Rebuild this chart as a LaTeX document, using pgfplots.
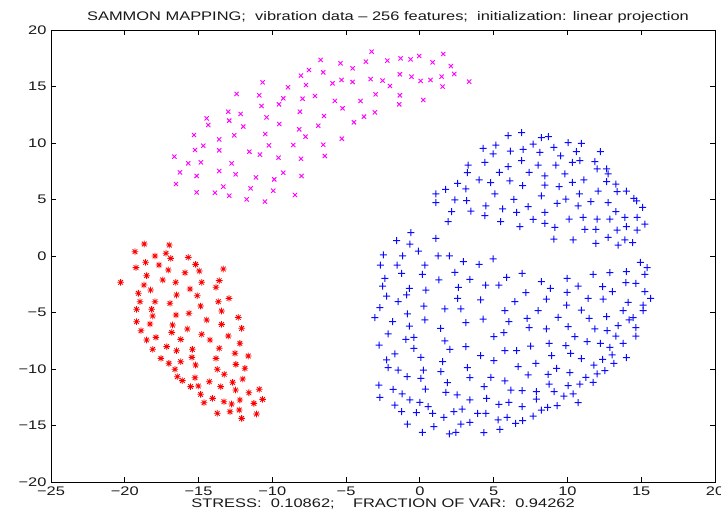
\documentclass[border=0pt]{standalone}
\usepackage{fontspec}
\setmainfont{Liberation Sans}[FakeStretch=1.32]
\usepackage{pgfplots}
\usepackage{pgfplotstable}
\pgfplotsset{compat=1.18}
\definecolor{mblue}{RGB}{10,10,255}
\definecolor{mmag}{RGB}{255,0,255}
\definecolor{mred}{RGB}{255,0,0}

\pgfdeclareplotmark{mstar}{%
  \pgfpathmoveto{\pgfpoint{-\pgfplotmarksize}{0pt}}\pgfpathlineto{\pgfpoint{\pgfplotmarksize}{0pt}}%
  \pgfpathmoveto{\pgfpoint{0pt}{-\pgfplotmarksize}}\pgfpathlineto{\pgfpoint{0pt}{\pgfplotmarksize}}%
  \pgfpathmoveto{\pgfpoint{-0.707\pgfplotmarksize}{-0.707\pgfplotmarksize}}\pgfpathlineto{\pgfpoint{0.707\pgfplotmarksize}{0.707\pgfplotmarksize}}%
  \pgfpathmoveto{\pgfpoint{-0.707\pgfplotmarksize}{0.707\pgfplotmarksize}}\pgfpathlineto{\pgfpoint{0.707\pgfplotmarksize}{-0.707\pgfplotmarksize}}%
  \pgfusepathqstroke}
% filled plus sign
\pgfdeclareplotmark{fplus}{%
  \pgfpathrectanglecorners{\pgfpoint{-\pgfplotmarksize}{-0.5bp}}{\pgfpoint{\pgfplotmarksize}{0.5bp}}%
  \pgfpathrectanglecorners{\pgfpoint{-0.5bp}{-\pgfplotmarksize}}{\pgfpoint{0.5bp}{\pgfplotmarksize}}%
  \pgfsetfillcolor{mblue}\pgfusepathqfill}

\pgfplotstableread{
x y
-3.27 18.08
-6.73 17.35
-5.38 17.05
-4.56 16.61
-3.66 17.20
-2.21 17.29
-1.31 17.49
-0.63 17.40
-0.05 17.70
1.58 17.88
0.86 17.14
2.10 16.81
2.33 16.11
1.47 15.87
3.34 15.43
1.54 14.99
0.72 15.58
0.05 15.49
-0.57 15.87
-1.36 16.08
-2.53 15.52
-2.03 15.04
-3.34 15.66
-4.56 15.40
-5.31 15.58
-5.92 15.28
-6.55 16.25
-7.52 16.46
-8.06 15.96
-7.72 15.13
-8.94 14.93
-10.66 15.37
-12.42 14.34
-10.89 14.22
-10.73 13.27
-9.26 13.95
-9.55 13.42
-7.95 13.92
-7.11 14.16
-5.76 13.72
-5.24 13.07
-4.02 13.72
-3.00 14.31
-1.36 14.22
-1.40 13.42
0.23 13.81
-3.05 12.71
-3.79 12.33
-4.47 11.83
-6.50 12.39
-6.89 11.53
-8.13 12.77
-8.18 11.21
-7.75 10.56
-9.53 11.68
-10.39 12.27
-12.99 12.77
-12.15 12.57
-14.45 12.18
-14.34 11.59
-12.92 11.98
-11.97 11.45
-15.31 10.71
-13.60 10.32
-12.58 10.68
-10.48 10.80
-5.29 10.38
-6.55 9.85
-8.58 9.82
-10.23 9.79
-14.68 9.76
-15.24 9.38
-13.60 9.35
-11.56 9.23
-10.84 8.97
-9.58 8.70
-8.06 8.61
-6.44 8.85
-16.64 8.79
-15.70 8.20
-14.84 8.29
-12.76 8.20
-16.26 7.40
-15.13 7.08
-13.60 7.52
-12.49 7.23
-11.11 6.96
-9.87 6.78
-9.26 7.37
-8.02 7.08
-16.53 6.37
-15.13 5.63
-13.89 5.60
-13.32 6.14
-12.92 5.34
-11.47 5.99
-11.74 5.01
-10.50 4.81
-9.94 5.78
-8.47 5.40
}\magdata

\pgfplotstableread{
x y
-18.68 1.06
-16.98 0.97
-19.31 0.38
-17.95 0.00
-17.21 0.24
-16.89 -0.21
-15.70 -0.12
-18.59 -0.56
-17.68 -0.80
-19.24 -1.03
-15.20 -0.74
-17.05 -1.24
-14.95 -1.33
-15.92 -1.48
-13.32 -1.15
-18.52 -1.74
-17.43 -2.12
-16.55 -2.33
-14.79 -2.33
-13.60 -2.18
-20.28 -2.33
-18.70 -2.57
-18.25 -3.01
-15.58 -2.92
-13.82 -2.77
-19.08 -3.30
-16.49 -3.45
-15.09 -3.51
-12.94 -3.75
-18.97 -4.04
-17.95 -4.04
-16.94 -4.19
-13.66 -4.04
-19.20 -4.72
-18.18 -4.72
-14.86 -4.43
-15.65 -5.07
-13.44 -4.87
-18.11 -5.31
-16.53 -5.22
-19.20 -5.81
-18.29 -6.02
-14.45 -5.66
-12.31 -5.43
-16.76 -6.11
-13.44 -6.05
-15.76 -6.46
-12.08 -6.40
-18.90 -6.61
-16.82 -6.76
-14.79 -6.93
-12.99 -7.08
-18.52 -7.43
-17.89 -7.20
-16.21 -7.38
-14.23 -7.43
-12.20 -7.73
-17.16 -8.02
-18.11 -8.26
-16.49 -8.38
-15.42 -8.26
-13.60 -8.17
-12.53 -8.61
-17.55 -9.06
-15.45 -8.97
-11.63 -8.85
-17.01 -9.50
-16.21 -9.35
-13.82 -9.06
-15.20 -9.65
-12.47 -9.59
-11.86 -9.94
-16.60 -10.03
-13.73 -10.03
-16.44 -10.68
-13.26 -10.47
-15.24 -10.77
-12.01 -10.89
-16.10 -11.03
-14.27 -11.12
-12.69 -11.18
-15.54 -11.56
-15.02 -11.51
-13.50 -11.56
-12.49 -11.86
-11.59 -12.10
-14.86 -12.24
-10.89 -11.80
-14.05 -12.60
-14.63 -12.98
-13.28 -12.89
-12.20 -12.74
-12.76 -13.10
-11.25 -13.04
-10.66 -12.69
-13.73 -13.92
-12.87 -13.78
-12.24 -13.63
-11.07 -13.98
-12.08 -14.37
}\reddata

\pgfplotstableread{
x y
5.98 10.65
6.89 10.91
8.24 10.47
8.70 10.56
4.29 9.53
5.15 9.82
4.97 9.03
6.14 9.29
7.00 9.44
7.68 9.91
8.13 9.17
9.08 9.62
10.05 10.03
10.95 9.97
9.53 8.85
10.61 9.23
12.24 9.23
6.89 8.44
4.40 8.29
3.27 8.05
3.21 7.37
5.38 7.40
5.98 7.91
7.41 7.40
8.02 8.05
9.21 8.05
10.34 8.29
10.84 8.44
11.86 8.35
12.01 7.70
12.65 7.70
9.82 7.26
12.76 7.26
8.47 7.08
4.02 6.73
4.79 6.49
6.10 6.64
6.96 6.22
8.47 6.28
9.44 6.14
10.34 6.52
11.11 6.73
12.65 6.58
13.28 6.37
1.08 5.49
1.74 5.90
2.55 6.43
3.12 5.93
5.08 5.49
6.37 5.01
8.24 5.31
9.89 5.04
10.80 5.49
12.08 5.75
13.37 5.69
14.00 5.75
14.50 5.10
14.68 4.87
15.09 4.31
1.08 4.72
2.37 4.96
3.16 4.90
4.47 4.43
5.60 4.16
6.55 3.86
7.34 4.37
8.47 3.86
9.30 4.66
10.73 4.43
11.58 4.81
12.76 4.72
2.15 3.92
3.46 3.98
4.40 3.57
7.68 3.24
1.92 3.04
5.47 3.04
6.78 2.60
8.47 2.89
9.15 2.54
10.12 3.27
11.07 3.42
12.01 3.27
12.87 3.27
13.28 3.92
13.89 3.42
14.72 3.42
15.24 2.83
14.00 2.60
13.37 2.30
14.72 2.30
11.92 2.36
11.18 2.36
-0.61 2.07
-1.58 1.36
-0.68 1.06
1.08 1.56
-0.11 0.44
9.08 1.50
10.39 1.42
11.92 1.12
12.76 1.65
13.44 0.97
13.89 1.42
14.41 1.18
-2.48 0.09
-1.17 0.00
1.24 0.00
1.99 0.00
2.94 -0.50
4.02 -0.74
4.97 -0.26
-2.67 -0.80
-1.54 -0.80
0.34 -0.80
14.95 -0.56
15.40 -1.03
-2.37 -1.98
-1.24 -1.53
0.16 -1.62
2.37 -1.45
1.29 -2.12
3.39 -2.06
5.87 -1.89
6.93 -1.53
8.24 -2.27
9.98 -1.98
11.74 -1.62
12.87 -1.48
14.00 -1.39
15.24 -1.62
-2.53 -2.66
-0.72 -2.86
0.41 -3.01
2.60 -2.77
4.45 -2.57
5.35 -2.57
8.85 -2.86
10.73 -2.66
12.38 -2.71
13.05 -3.16
13.96 -2.36
14.63 -2.42
15.24 -3.16
-2.26 -3.54
-0.90 -3.45
-1.47 -4.04
2.55 -3.75
4.11 -3.89
6.44 -4.04
7.18 -3.24
8.58 -3.81
9.98 -3.21
11.40 -3.75
12.42 -3.81
14.11 -4.10
15.63 -3.75
15.13 -4.34
-2.71 -4.57
0.27 -4.43
1.69 -4.69
2.78 -4.69
5.76 -4.84
8.02 -4.84
9.94 -4.34
10.95 -4.78
13.78 -4.84
15.13 -4.84
-3.05 -5.46
-1.85 -5.81
-0.84 -5.13
0.34 -5.66
3.12 -5.90
4.29 -5.58
6.03 -5.81
7.27 -5.52
9.37 -5.43
11.47 -5.52
12.65 -5.37
14.18 -5.66
14.45 -5.46
13.44 -6.17
14.63 -6.34
-0.72 -6.20
1.40 -6.40
7.41 -6.34
8.58 -6.46
10.05 -6.25
11.86 -6.46
12.69 -6.61
-2.15 -6.90
-0.95 -7.37
-0.41 -7.20
1.69 -7.52
5.01 -7.14
5.69 -6.78
10.50 -7.14
13.28 -7.08
14.63 -7.08
-2.76 -7.88
-0.41 -8.17
2.03 -8.26
3.12 -8.02
5.76 -8.38
6.55 -8.38
7.50 -7.97
8.76 -7.73
9.89 -7.94
11.34 -7.58
12.24 -7.73
12.87 -8.08
13.78 -7.73
-1.69 -8.67
0.07 -8.97
1.54 -9.35
4.11 -8.82
5.01 -9.26
8.92 -8.82
10.21 -8.61
10.95 -9.09
12.38 -9.14
13.03 -8.76
14.00 -9.00
-2.26 -9.20
-2.15 -9.88
-1.47 -10.09
0.23 -10.09
1.42 -10.24
3.21 -9.88
6.66 -9.79
7.86 -9.50
9.26 -9.94
11.79 -9.65
13.14 -9.50
-0.86 -10.68
0.07 -10.83
3.39 -10.77
4.81 -10.74
5.76 -11.06
7.34 -10.53
8.69 -10.47
10.16 -10.32
11.25 -10.74
12.01 -10.44
12.53 -10.15
-2.78 -11.42
-1.81 -11.80
0.38 -11.77
1.87 -11.21
4.36 -11.56
6.17 -11.86
6.93 -11.92
7.90 -12.01
8.76 -11.33
9.10 -12.01
10.05 -11.48
10.84 -11.33
11.74 -11.18
-2.71 -12.51
-1.20 -12.21
-0.68 -12.74
0.00 -12.95
1.76 -12.07
2.53 -12.30
3.39 -12.74
4.52 -12.60
5.35 -13.13
6.03 -12.95
7.90 -12.66
9.76 -12.39
10.39 -12.21
10.73 -12.98
-1.69 -13.19
-1.24 -13.78
-0.23 -13.86
0.56 -13.33
0.86 -13.92
1.63 -14.28
2.30 -13.78
2.87 -13.54
3.91 -13.92
4.47 -13.92
6.93 -13.33
8.24 -13.63
8.65 -13.39
9.30 -13.25
5.31 -14.51
5.92 -14.28
6.96 -14.57
7.68 -14.16
2.78 -14.87
3.39 -14.72
-0.84 -14.87
0.95 -15.10
0.16 -15.61
1.99 -15.75
2.44 -15.61
4.34 -15.63
5.42 -15.34
6.48 -14.81
}\bluedata

\begin{document}
\begin{tikzpicture}
\begin{axis}[
  width=664bp, height=452bp, scale only axis,
  xmin=-25, xmax=20, ymin=-20, ymax=20,
  xtick={-25,-20,-15,-10,-5,0,5,10,15,20},
  xticklabels={−25,−20,−15,−10,−5,0,5,10,15,20},
  ytick={-20,-15,-10,-5,0,5,10,15,20},
  yticklabels={−20,−15,−10,−5,0,5,10,15,20},
  tick align=inside,
  major tick length=5bp,
  axis line style={black, line width=0.9bp},
  tick style={black, line width=0.8bp},
  ticklabel style={font=\fontsize{12.5}{14}\selectfont, text=black!90},
  xticklabel style={yshift=-1bp},
  yticklabel style={xshift=-1bp},
  title={SAMMON MAPPING;\ \ vibration data – 256 features;\ \ initialization: linear projection},
  title style={font=\fontsize{12.5}{14}\selectfont, text=black!90, yshift=-3bp, xshift=5bp},
  xlabel={STRESS:\ \ 0.10862;\ \ \ \ FRACTION OF VAR:\ \ 0.94262},
  xlabel style={font=\fontsize{12.5}{14}\selectfont, text=black!90, yshift=3bp},
  clip=false,
]
\addplot[only marks, mark=fplus, mark size=3.5bp, color=mblue] table {\bluedata};
\addplot[only marks, mark=x, mark size=3.0bp, color=mmag,
  mark options={solid, draw=mmag, line width=0.9bp}] table {\magdata};
\addplot[only marks, mark=mstar, mark size=3.3bp, color=mred,
  mark options={solid, draw=mred, line width=0.8bp}] table {\reddata};
\coordinate (ll) at (rel axis cs:0,0);
\coordinate (ur) at (rel axis cs:1,1);
\end{axis}
\pgfresetboundingbox
\path[use as bounding box] ([xshift=-51bp,yshift=-32bp]ll) rectangle ([xshift=6bp,yshift=30bp]ur);
\end{tikzpicture}
\end{document}
